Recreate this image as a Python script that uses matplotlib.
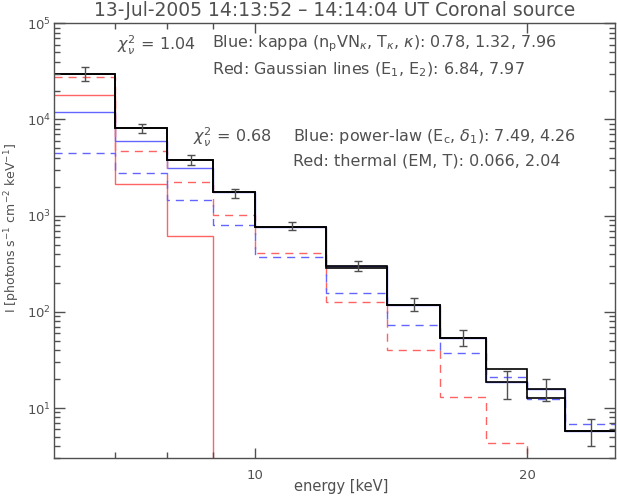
"""
RHESSI style spectrum of the coronal source, two fits compared.
"""
import matplotlib
matplotlib.use('Agg')
import matplotlib.pyplot as plt
from matplotlib.ticker import FixedLocator, NullFormatter
import numpy as np

# energy bins [keV]
edges = [6, 7, 8, 9, 10, 12, 14, 16, 18, 20, 22, 25]
centers = [6.5, 7.5, 8.5, 9.5, 11, 13, 15, 17, 19, 21, 23.5]

# observed flux and 1-sigma errors
obs = [30100, 8135, 3815, 1710, 777, 298.5, 120, 54.2, 18.5, 15.9, 5.83]
obs_err = [5000, 875, 475, 170, 74, 35.5, 19, 10.3, 6.0, 4.0, 1.84]

# fit 1: kappa (blue solid) + gaussian lines (red solid)
kappa = [11900, 5990, 3140, 1750, 762, 301, 118, 53.2, 18.5, 15.7, 5.81]
gauss = [18100, 2150, 619, 0.01, 0.01, 0.01, 0.01, 0.01, 0.01, 0.01, 0.01]
total1 = [30000, 8140, 3760, 1750, 762, 301, 118, 53.2, 18.5, 15.7, 5.81]

# fit 2: power-law (blue dashed) + thermal (red dashed)
powlaw = [4500, 2790, 1460, 806, 371, 157, 72.6, 37.4, 21.2, 12.3, 6.86]
thermal = [27600, 4750, 2220, 1007, 408, 127, 40.5, 13.1, 4.28, 0.01, 0.01]
total2 = [30000, 8140, 3760, 1750, 762, 287, 118, 53.2, 25.3, 12.8, 5.81]

RED = '#ff6464'
BLUE = '#6464ff'
GREY = '#505050'
W, H = 617, 501
DASH = (0, (5.8, 4.3))


def fx(px):
    return px / W


def fy(py):
    return 1 - py / H


fig = plt.figure(figsize=(W / 100, H / 100), dpi=100)
ax = fig.add_axes([fx(54), fy(458.3), fx(615 - 54), (458.3 - 23.3) / H])
ax.set_xscale('log')
ax.set_yscale('log')

# model components
ax.stairs(gauss, edges, color=RED, lw=1.0, baseline=None)
ax.stairs(kappa, edges, color=BLUE, lw=1.0, baseline=None)
ax.stairs(thermal, edges, color=RED, lw=1.0, ls=DASH, baseline=None)
ax.stairs(powlaw, edges, color=BLUE, lw=1.0, ls=DASH, baseline=None)

# totals
ax.stairs(total2, edges, color='black', lw=1.2, baseline=None)
ax.stairs(total1, edges, color='black', lw=1.2, baseline=None)

# data points
ax.errorbar(centers, obs, yerr=obs_err, fmt='none', ecolor=GREY,
            elinewidth=1.0, capsize=3, capthick=1.0)

ax.set_xlim(6, 25)
ax.set_ylim(3, 1e5)

ax.xaxis.set_major_locator(FixedLocator([10, 20]))
ax.xaxis.set_minor_locator(FixedLocator([7, 8, 9]))
ax.xaxis.set_major_formatter(plt.FixedFormatter(['10', '20']))
ax.xaxis.set_minor_formatter(NullFormatter())

for s in ax.spines.values():
    s.set_color(GREY)
    s.set_linewidth(1.0)
ax.tick_params(which='both', direction='in', top=True, right=True,
               colors=GREY, labelsize=9.5, width=1.0)
ax.tick_params(axis='y', which='major', length=8, pad=2)
ax.tick_params(axis='y', which='minor', length=4)
ax.tick_params(axis='x', which='major', length=7, pad=8)
ax.tick_params(axis='x', which='minor', length=4)

# labels and title
fig.text(fx(335), fy(11), '13-Jul-2005 14:13:52 \u2013 14:14:04 UT Coronal source',
         ha='center', va='center', fontsize=13.5, color=GREY)
fig.text(fx(341), fy(487), 'energy [keV]', ha='center', va='center',
         fontsize=10.5, color=GREY)
fig.text(fx(12), fy(228), r'I [photons s$^{-1}$ cm$^{-2}$ keV$^{-1}$]',
         ha='center', va='center', rotation=90, fontsize=9, color=GREY)

# fit annotations
fs = 11.5
fig.text(fx(117), fy(45), r'$\chi^2_\nu$ = 1.04', ha='left', va='center',
         fontsize=fs, color=GREY)
fig.text(fx(212), fy(44),
         r'Blue: kappa (n$_\mathrm{p}$VN$_\kappa$, T$_\kappa$, $\kappa$): 0.78, 1.32, 7.96',
         ha='left', va='center', fontsize=fs, color=GREY)
fig.text(fx(212), fy(70), r'Red: Gaussian lines (E$_1$, E$_2$): 6.84, 7.97',
         ha='left', va='center', fontsize=fs, color=GREY)
fig.text(fx(193), fy(137), r'$\chi^2_\nu$ = 0.68', ha='left', va='center',
         fontsize=fs, color=GREY)
fig.text(fx(293), fy(136), r'Blue: power-law (E$_\mathrm{c}$, $\delta_1$): 7.49, 4.26',
         ha='left', va='center', fontsize=fs, color=GREY)
fig.text(fx(293), fy(161), r'Red: thermal (EM, T): 0.066, 2.04',
         ha='left', va='center', fontsize=fs, color=GREY)

fig.savefig('out.png', dpi=100)
